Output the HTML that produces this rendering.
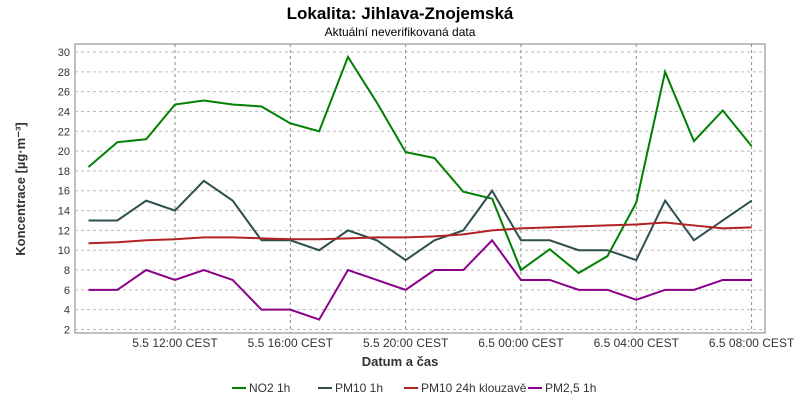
<!DOCTYPE html>
<html><head><meta charset="utf-8"><style>
body{margin:0;background:#fff;font-family:"Liberation Sans",sans-serif}
svg text{font-family:"Liberation Sans",sans-serif}
</style></head><body>
<svg width="800" height="400" xmlns="http://www.w3.org/2000/svg" id="chart">
<text x="400" y="19" text-anchor="middle" font-size="17" font-weight="bold">Lokalita: Jihlava-Znojemská</text>
<text x="400" y="36" text-anchor="middle" font-size="12">Aktuální neverifikovaná data</text>
<rect x="75" y="44" width="690" height="289" fill="#fff" stroke="#808080"/>
<g id="grid"></g><g id="axes"></g><g id="series"></g>
<text x="400" y="366" text-anchor="middle" font-size="13" font-weight="bold" fill="#333">Datum a čas</text>
<text transform="translate(25,189) rotate(-90)" text-anchor="middle" font-size="13" font-weight="bold" fill="#333">Koncentrace [µg·m⁻³]</text>
<g id="legend" font-size="12"></g>
</svg>
<script>
const hours=[9,10,11,12,13,14,15,16,17,18,19,20,21,22,23,24,25,26,27,28,29,30,31,32];
const no2=[18.4,20.9,21.2,24.7,25.1,24.7,24.5,22.8,22.0,29.5,24.9,19.9,19.3,15.9,15.2,8.0,10.1,7.7,9.4,14.8,28.0,21.0,24.1,20.5];
const pm10=[13,13,15,14,17,15,11,11,10,12,11,9,11,12,16,11,11,10,10,9,15,11,13,15];
const pm10avg=[10.7,10.8,11.0,11.1,11.3,11.3,11.2,11.1,11.1,11.2,11.3,11.3,11.4,11.6,12.0,12.2,12.3,12.4,12.5,12.6,12.8,12.5,12.2,12.3];
const pm25=[6,6,8,7,8,7,4,4,3,8,7,6,8,8,11,7,7,6,6,5,6,6,7,7];
const yTicks=[2,4,6,8,10,12,14,16,18,20,22,24,26,28,30];
const xTickHours=[12,16,20,24,28,32];
const xTickLabels=["5.5 12:00 CEST","5.5 16:00 CEST","5.5 20:00 CEST","6.5 00:00 CEST","6.5 04:00 CEST","6.5 08:00 CEST"];
const seriesNames=["NO2 1h","PM10 1h","PM10 24h klouzavě","PM2,5 1h"];
const seriesColors=["#008000","#2f4f4f","#b22222","#8b008b"];
const NS="http://www.w3.org/2000/svg";
const X=h=>175+(h-12)*28.83;
const Y=v=>329.5-(v-2)*9.911;
function mk(tag,attrs,parent,txt){const e=document.createElementNS(NS,tag);for(const k in attrs)e.setAttribute(k,attrs[k]);if(txt!==undefined)e.textContent=txt;document.getElementById(parent).appendChild(e);return e;}
yTicks.forEach(v=>{
 const l=mk('line',{x1:75,x2:765,y1:Y(v),y2:Y(v),stroke:'#bbb','stroke-dasharray':'3,3'},'grid');
 
 
 const t=mk('text',{x:70,y:Y(v)+4,'text-anchor':'end','font-size':11,fill:'#333'},'axes',v);
 
 
});
xTickHours.forEach((h,i)=>{
 const l=mk('line',{x1:X(h),x2:X(h),y1:44,y2:333,stroke:'#888','stroke-dasharray':'3,3'},'grid');
 
 
 const t=mk('text',{x:X(h),y:347,'text-anchor':'middle','font-size':12,fill:'#333'},'axes',xTickLabels[i]);
 
 
});
[no2,pm10,pm10avg,pm25].forEach((d,i)=>{
 const p=mk('polyline',{points:d.map((v,j)=>X(hours[j])+','+Y(v)).join(' '),fill:'none',stroke:seriesColors[i],'stroke-width':2},'series');
 
 
});
const lx=[232,318,404,528];
seriesNames.forEach((n,i)=>{
 const l=mk('line',{x1:lx[i],x2:lx[i]+14,y1:388,y2:388,stroke:seriesColors[i],'stroke-width':2},'legend');
 
 
 const t=mk('text',{x:lx[i]+17,y:392,fill:'#333'},'legend',n);
 
 
});
</script>
</body></html>
